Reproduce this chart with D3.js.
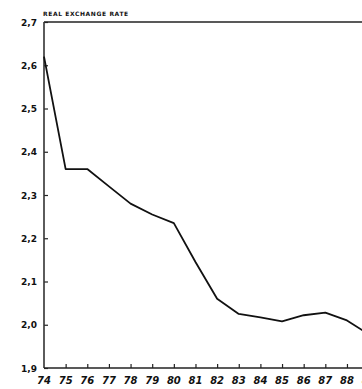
<!DOCTYPE html>
<html>
<head>
<meta charset="utf-8">
<script src="https://cdn.jsdelivr.net/npm/d3@7"></script>
<style>
  body { margin: 0; background: #fff; }
  svg { display: block; }
</style>
</head>
<body>
<div id="chart"></div>
<script>
var width = 362,
    height = 389;

// real exchange rate, annual
var years = [74, 75, 76, 77, 78, 79, 80, 81, 82, 83, 84, 85, 86, 87, 88, 89];
var rate = [2.62, 2.36, 2.36, 2.32, 2.28, 2.255, 2.235, 2.145, 2.06, 2.025, 2.017, 2.008, 2.022, 2.028, 2.01, 1.978];
var yTicks = [1.9, 2.0, 2.1, 2.2, 2.3, 2.4, 2.5, 2.6, 2.7];
var xTickLabels = ["74","75","76","77","78","79","80","81","82","83","84","85","86","87","88","89"];

var plotLeft = 44, plotTop = 22, plotBottom = 368;

var x = d3.scaleLinear().domain([74, 89]).range([plotLeft, plotLeft + 15 * 21.64]);
var y = d3.scaleLinear().domain([1.9, 2.7]).range([plotBottom, plotTop]);

var svg = d3.select("#chart")
    .append("svg")
    .attr("width", width)
    .attr("height", height);

// title
svg.append("text")
    .attr("x", 43)
    .attr("y", 16)
    .style("font-family", "DejaVu Sans")
    .style("font-size", "6px")
    .style("font-weight", 700)
    .style("letter-spacing", "0.6px")
    .style("fill", "#111")
    .text("REAL EXCHANGE RATE");

// frame top line
svg.append("line")
    .attr("x1", plotLeft).attr("x2", width)
    .attr("y1", plotTop).attr("y2", plotTop)
    .style("stroke", "#222")
    .style("stroke-width", 1.5);

// y axis
var yAxis = d3.axisRight(y)
    .tickValues(yTicks)
    .tickSize(4)
    .tickFormat("");
var ya = svg.append("g")
    .attr("transform", "translate(" + plotLeft + ",0)")
    .call(yAxis);
ya.select(".domain").remove();
ya.selectAll("line").style("stroke", "#222").style("stroke-width", 1.2);

svg.append("line")
    .attr("x1", plotLeft).attr("x2", plotLeft)
    .attr("y1", plotTop).attr("y2", plotBottom)
    .style("stroke", "#333")
    .style("stroke-width", 1.6);

svg.selectAll(".ylab")
    .data(yTicks)
    .enter().append("text")
    .attr("class", "ylab")
    .attr("x", 37)
    .attr("y", function(d) { return y(d) + 3.5; })
    .attr("text-anchor", "end")
    .style("font-family", "DejaVu Sans")
    .style("font-size", "9px")
    .style("font-weight", 700)
    .style("fill", "#111")
    .text(function(d) { return d3.format(".1f")(d).replace(".", ","); });

// x axis
var xAxis = d3.axisTop(x)
    .tickValues(years.slice(1))
    .tickSize(4)
    .tickFormat("");
var xa = svg.append("g")
    .attr("transform", "translate(0," + plotBottom + ")")
    .call(xAxis);
xa.select(".domain").remove();
xa.selectAll("line").style("stroke", "#222").style("stroke-width", 1.2);

svg.append("line")
    .attr("x1", plotLeft).attr("x2", width)
    .attr("y1", plotBottom).attr("y2", plotBottom)
    .style("stroke", "#222")
    .style("stroke-width", 1.6);

svg.selectAll(".xlab")
    .data(years)
    .enter().append("text")
    .attr("class", "xlab")
    .attr("x", function(d) { return x(d); })
    .attr("y", 384)
    .attr("text-anchor", "middle")
    .style("font-family", "DejaVu Sans")
    .style("font-size", "10px")
    .style("font-style", "italic")
    .style("font-weight", 700)
    .style("fill", "#111")
    .text(function(d, i) { return xTickLabels[i]; });

// the series
var line = d3.line()
    .x(function(d, i) { return x(years[i]); })
    .y(function(d) { return y(d); });

svg.append("path")
    .datum(rate)
    .attr("d", line)
    .style("fill", "none")
    .style("stroke", "#111")
    .style("stroke-width", 1.8)
    .style("stroke-linejoin", "round");
</script>
</body>
</html>
